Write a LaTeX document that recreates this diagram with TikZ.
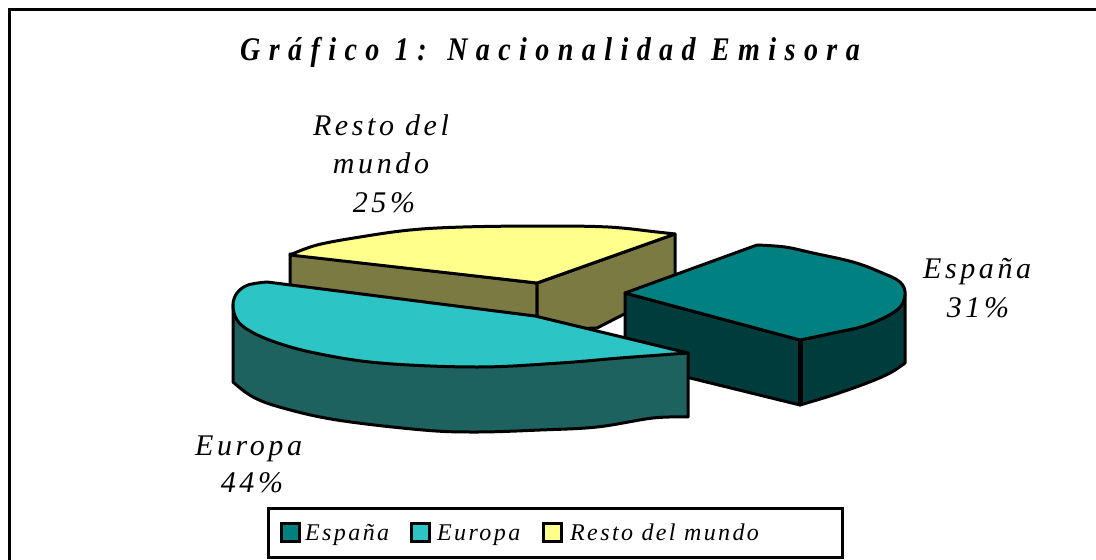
\documentclass[tikz,border=0pt]{standalone}
\usepackage{fontspec}
\setmainfont{Liberation Serif}
\newfontfamily\titlefont[LetterSpace=30]{Liberation Serif}
\newfontfamily\lblfont[LetterSpace=12]{Liberation Serif}
\newfontfamily\legfont[LetterSpace=10]{Liberation Serif}
\definecolor{espTop}{RGB}{0,128,128}
\definecolor{espSide}{RGB}{0,60,60}
\definecolor{eurTop}{RGB}{44,196,196}
\definecolor{eurSide}{RGB}{30,98,96}
\definecolor{resTop}{RGB}{255,255,140}
\definecolor{resSide}{RGB}{122,122,66}
\tikzset{
  face/.style={draw=black, line width=3pt, line join=round},
  lbl/.style={font=\lblfont\itshape\fontsize{30}{36}\selectfont, inner sep=0pt, anchor=base},
  lbll/.style={font=\lblfont\itshape\fontsize{30}{36}\selectfont, inner sep=0pt, anchor=base west},
  legtext/.style={font=\legfont\itshape\fontsize{24}{28}\selectfont, inner sep=0pt, anchor=base west},
  legsq/.style={draw=black, line width=3pt, minimum width=18pt, minimum height=18pt, inner sep=0pt},
}
\begin{document}
\begin{tikzpicture}[x=1pt,y=-1pt]
\useasboundingbox (0,0) rectangle (1096,560);
\fill[white] (0,0) rectangle (1096,560);
% outer frame (cropped on right and bottom)
\draw[line width=3.5pt] (9.5,570) -- (9.5,9.5) -- (1110,9.5);
% title
\node[font=\titlefont\bfseries\itshape\fontsize{33}{38}\selectfont, inner sep=0pt, anchor=base west] (title) at (240,60) {\scalebox{0.85}[1]{Gráfico 1: Nacionalidad Emisora}};

% ---- Resto del mundo slice (back) ----
\filldraw[face, fill=resSide] (290,254) -- (537,283) -- (537,330) -- (290,295) -- cycle;
\filldraw[face, fill=resSide] (537,283) -- (675,234) -- (675,288) -- (597,328) -- (537,330) -- cycle;
\filldraw[face, fill=resTop] (537,283) -- (290,255) -- plot[smooth, tension=0.6] coordinates {(290,255) (317,245) (360,237) (410,230) (463,227) (540,226) (608,227) (657,232) (675,234)} -- cycle;

% ---- España slice (exploded, right) ----
\filldraw[face, fill=espSide] (800,340) -- plot[smooth, tension=0.6] coordinates {(800,340) (833,333) (867,325) (897,310) (905,295)} -- (905,363) -- plot[smooth, tension=0.6] coordinates {(905,363) (890,373) (867,383) (833,395) (800,405)} -- cycle;
\filldraw[face, fill=espSide] (625,293) -- (800,340) -- (800,405) -- (625,362) -- cycle;
\filldraw[face, fill=espTop] (625,293) -- (757,245) -- plot[smooth, tension=0.6] coordinates {(757,245) (785,247) (813,253) (853,262) (880,272) (900,282) (905,295) (897,310) (867,325) (833,333) (800,340)} -- cycle;
\draw[line width=5pt] (800,340) -- (800,405);

% ---- Europa slice (front) ----
\filldraw[face, fill=eurSide] (233,305) -- plot[smooth, tension=0.6] coordinates {(233,382) (253,397) (283,408) (337,420) (423,430) (477,432) (540,430) (597,427) (653,418) (688,417)} -- (688,353) -- cycle;
\filldraw[face, fill=eurTop] (535,316) -- (267,282) -- plot[smooth, tension=0.6] coordinates {(267,282) (248,285) (237,293) (233,305) (237,320) (250,331) (275,342) (315,353) (380,363) (477,367) (560,363) (620,358) (688,353)} -- cycle;

% ---- data labels ----
\node[lbl] (resto1) at (381,135) {Resto del};
\node[lbl] (resto2) at (381,173) {mundo};
\node[lbl] (resto3) at (384,212) {25\%};
\node[lbll] (esp1) at (923,278) {España};
\node[lbl] (esp2) at (978,317) {31\%};
\node[lbll] (eur1) at (195,455) {Europa};
\node[lbl] (eur2) at (252,492) {44\%};

% ---- legend ----
\draw[line width=3pt] (268,508) rectangle (842,557);
\node[legsq, fill=espTop] (sqesp) at (290,532.5) {};
\node[legtext] (legesp) at (305,540) {España};
\node[legsq, fill=eurTop] (sqeur) at (420,532.5) {};
\node[legtext] (legeur) at (437,540) {Europa};
\node[legsq, fill=resTop] (sqres) at (552.5,532.5) {};
\node[legtext] (legres) at (570,540) {Resto del mundo};
\end{tikzpicture}
\end{document}
